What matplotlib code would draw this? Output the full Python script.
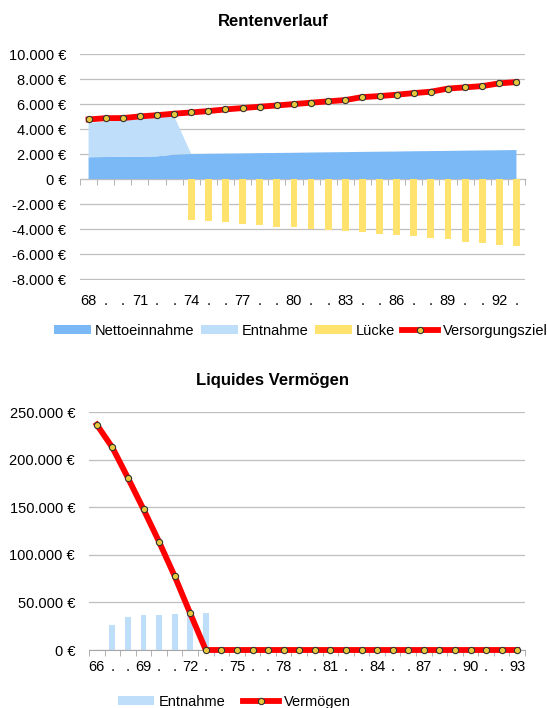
import numpy as np
import matplotlib
matplotlib.use("Agg")
import matplotlib.pyplot as plt
from matplotlib.patches import Patch
from matplotlib.lines import Line2D

plt.rcParams['font.family'] = ['Liberation Sans', 'DejaVu Sans']

# ---------------- data: Rentenverlauf ----------------
top_ages = list(range(68, 94))
top_labels = ["68", ".", ".", "71", ".", ".", "74", ".", ".", "77", ".", ".", "80",
              ".", ".", "83", ".", ".", "86", ".", ".", "89", ".", ".", "92", "."]
netto = [1750, 1770, 1790, 1800, 1820, 1960, 2010, 2030, 2045, 2060, 2080, 2095, 2110,
         2130, 2145, 2160, 2180, 2195, 2210, 2230, 2245, 2260, 2280, 2295, 2310, 2330]
entnahme_m = [2760, 2830, 2910, 3000, 3080, 3085, 0, 0, 0, 0, 0, 0, 0,
              0, 0, 0, 0, 0, 0, 0, 0, 0, 0, 0, 0, 0]
luecke = [0, 0, 0, 0, 0, 0, -3250, -3390, -3470, -3600, -3710, -3815, -3840,
          -3975, -4055, -4160, -4275, -4375, -4480, -4590, -4700, -4830, -5020, -5155, -5285, -5395]
ziel = [4780, 4880, 4890, 5020, 5120, 5240, 5340, 5450, 5580, 5690, 5800, 5900, 6010,
        6120, 6230, 6330, 6570, 6650, 6760, 6890, 7000, 7250, 7350, 7450, 7670, 7770]
top_yticks = [-8000, -6000, -4000, -2000, 0, 2000, 4000, 6000, 8000, 10000]

# ---------------- data: Liquides Vermoegen ----------------
bot_ages = list(range(66, 94))
bot_labels = ["66", ".", ".", "69", ".", ".", "72", ".", ".", "75", ".", ".", "78", ".",
              ".", "81", ".", ".", "84", ".", ".", "87", ".", ".", "90", ".", ".", "93"]
entnahme_j = [0, 26300, 35000, 36800, 36800, 37800, 38500, 39200] + [0] * 20
vermoegen = [237000, 213000, 181000, 148000, 113800, 77700, 38500, 0] + [0] * 20
bot_yticks = [0, 50000, 100000, 150000, 200000, 250000]

# ---------------- style ----------------
C_NETTO = '#7ab9f6'
C_ENTN = '#bfdefa'
C_LUECKE = '#ffe36e'
C_RED = '#ff0000'
C_MARK = '#e8c83c'
C_GRID = '#bfbfbf'
C_AXIS = '#a6a6a6'
FS = 10.5


def euro(v):
    s = f"{abs(int(v)):,}".replace(",", ".")
    return ("-" if v < 0 else "") + s + " €"


fig = plt.figure(figsize=(5.47, 7.08), dpi=100)

# ================= top chart =================
ax1 = fig.add_axes([80 / 547, 1 - 280 / 708, 445 / 547, 226 / 708])
x1 = np.arange(len(top_ages))
ax1.stackplot(x1, netto, entnahme_m, colors=[C_NETTO, C_ENTN], linewidth=0, zorder=2)
ax1.bar(x1, luecke, width=0.4, color=C_LUECKE, zorder=2)
ax1.plot(x1, ziel, color=C_RED, lw=4.2, zorder=4, marker='o', markersize=4.5,
         markerfacecolor=C_MARK, markeredgecolor='#333333', markeredgewidth=0.8)
ax1.set_xlim(-0.5, len(top_ages) - 0.5)
ylo, yhi = top_yticks[0] - 80, top_yticks[-1] + 20
ax1.set_ylim(ylo, yhi)
ax1.set_yticks(top_yticks)
ax1.set_yticklabels([euro(v) for v in top_yticks], fontsize=FS)
ax1.yaxis.grid(True, color=C_GRID, lw=0.9, zorder=0)
ax1.set_axisbelow(True)
for s in ['top', 'right', 'left', 'bottom']:
    ax1.spines[s].set_visible(False)
ax1.tick_params(axis='y', length=0, pad=10)
ax1.set_xticks(x1)
ax1.set_xticklabels(top_labels, fontsize=FS)
ax1.tick_params(axis='x', length=0, pad=10)
# zero axis line with category-boundary tick marks
zero_frac = (0 - ylo) / (yhi - ylo)
zax = ax1.secondary_xaxis(zero_frac)
zax.set_xticks([])
zax.set_xticks(np.arange(-0.5, len(top_ages), 1.0), minor=True)
zax.tick_params(which='minor', length=4, direction='out', color=C_AXIS)
zax.spines['bottom'].set_color(C_AXIS)
zax.spines['bottom'].set_zorder(3)
fig.text(273 / 547, 1 - 22 / 708, "Rentenverlauf", ha='center', va='center',
         fontsize=12, fontweight='bold')

h1 = [Patch(facecolor=C_NETTO, edgecolor='none'),
      Patch(facecolor=C_ENTN, edgecolor='none'),
      Patch(facecolor=C_LUECKE, edgecolor='none'),
      Line2D([], [], color=C_RED, lw=4.2, marker='o', markersize=4.5,
             markerfacecolor=C_MARK, markeredgecolor='#333333', markeredgewidth=0.8)]
fig.legend(h1, ["Nettoeinnahme", "Entnahme", "Lücke", "Versorgungsziel"],
           loc='center', bbox_to_anchor=(301 / 547, 1 - 331 / 708), ncol=4,
           frameon=False, fontsize=FS, handlelength=2.5, handleheight=0.55,
           handletextpad=0.3, columnspacing=0.45, borderpad=0, borderaxespad=0)

# ================= bottom chart =================
ax2 = fig.add_axes([89 / 547, 1 - 650 / 708, 436 / 547, 238 / 708])
x2 = np.arange(len(bot_ages))
ax2.bar(x2, entnahme_j, width=0.38, color=C_ENTN, zorder=2)
ax2.plot(x2, vermoegen, color=C_RED, lw=4.2, zorder=4, marker='o', markersize=4.5,
         markerfacecolor=C_MARK, markeredgecolor='#333333', markeredgewidth=0.8,
         clip_on=False)
ax2.set_xlim(-0.5, len(bot_ages) - 0.5)
ax2.set_ylim(bot_yticks[0], bot_yticks[-1] + 300)
ax2.set_yticks(bot_yticks)
ax2.set_yticklabels([euro(v) for v in bot_yticks], fontsize=FS)
ax2.yaxis.grid(True, color=C_GRID, lw=0.9, zorder=0)
ax2.set_axisbelow(True)
for s in ['top', 'right', 'left']:
    ax2.spines[s].set_visible(False)
ax2.spines['bottom'].set_color(C_AXIS)
ax2.tick_params(axis='y', length=0, pad=10)
ax2.set_xticks(x2)
ax2.set_xticklabels(bot_labels, fontsize=FS)
ax2.set_xticks(np.arange(-0.5, len(bot_ages), 1.0), minor=True)
ax2.tick_params(axis='x', which='major', length=0, pad=7)
ax2.tick_params(axis='x', which='minor', length=4, direction='out', color=C_AXIS)
fig.text(272 / 547, 1 - 380 / 708, "Liquides Vermögen", ha='center', va='center',
         fontsize=12, fontweight='bold')

h2 = [Patch(facecolor=C_ENTN, edgecolor='none'),
      Line2D([], [], color=C_RED, lw=4.2, marker='o', markersize=4.5,
             markerfacecolor=C_MARK, markeredgecolor='#333333', markeredgewidth=0.8)]
fig.legend(h2, ["Entnahme", "Vermögen"], loc='center',
           bbox_to_anchor=(234 / 547, 1 - 702 / 708), ncol=2, frameon=False,
           fontsize=FS, handlelength=2.5, handleheight=0.55, handletextpad=0.3,
           columnspacing=1.2, borderpad=0, borderaxespad=0)

fig.savefig("out.png", dpi=100)
